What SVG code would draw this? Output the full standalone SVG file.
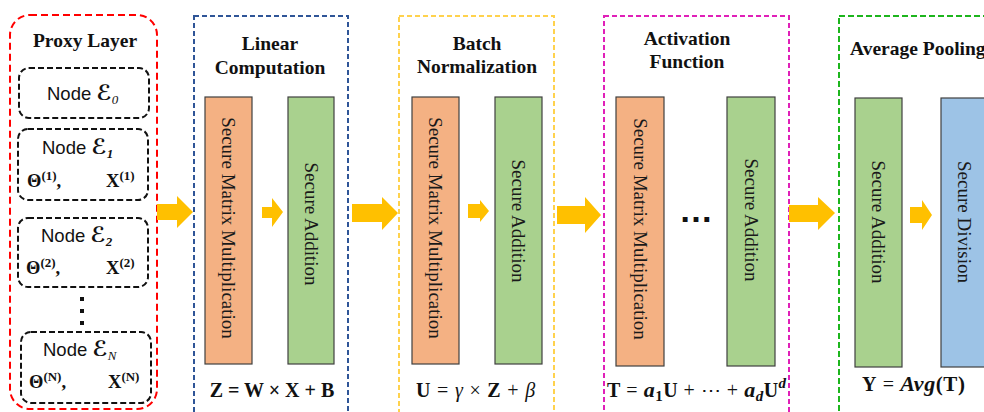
<svg xmlns="http://www.w3.org/2000/svg" width="984" height="412" viewBox="0 0 984 412">
  <style>
    .title { font-family: "Liberation Serif", "Times New Roman", serif; font-weight: bold; font-size: 19.5px; fill: #111; text-anchor: middle; }
    .vt { font-family: "Liberation Serif", "Times New Roman", serif; font-size: 19px; fill: #1a1a1a; text-anchor: middle; dominant-baseline: central; }
    .eq { font-family: "Liberation Serif", "Times New Roman", serif; font-size: 20px; fill: #111; }
    .b { font-weight: bold; }
    .i { font-style: italic; }
    .node { font-family: "Liberation Sans", Arial, sans-serif; font-size: 18.5px; fill: #111; }
    .scr { font-family: "DejaVu Sans", sans-serif; font-size: 21px; font-weight: bold; }
    .sub { font-family: "Liberation Serif", serif; font-size: 13px; font-style: italic; }
    .par { font-family: "Liberation Serif", "Times New Roman", serif; font-weight: bold; font-size: 18.5px; fill: #111; }
    .sup { font-size: 13px; }
    .stage { fill: none; stroke-width: 2; }
    .nbox { fill: #fff; stroke: #111; stroke-width: 2; stroke-dasharray: 6 3; }
    .mul { fill: #F4B183; stroke: #404040; stroke-width: 1.2; }
    .add { fill: #A9D18E; stroke: #404040; stroke-width: 1.2; }
    .div { fill: #9DC3E6; stroke: #404040; stroke-width: 1.2; }
    .arrow { fill: #FFC000; }
    .dot { fill: #111; }
  </style>

  <rect width="984" height="412" fill="#fff"/>

  <!-- Proxy layer with its participating nodes -->
  <g id="proxy-layer">
    <rect class="stage" x="10" y="15" width="147" height="394" rx="20" stroke="#FF0000" stroke-dasharray="7 4"/>
    <text class="title" x="85" y="47">Proxy Layer</text>
  </g>
  <g id="node-e0">
    <rect class="nbox" x="19" y="68" width="130" height="50" rx="10"/>
    <text class="node" x="47" y="100">Node <tspan class="scr">ℰ</tspan><tspan class="sub" dy="4">0</tspan></text>
  </g>
  <g id="node-e1">
    <rect class="nbox" x="18" y="129" width="130" height="71" rx="10"/>
    <text class="node" x="42" y="154">Node <tspan class="scr">ℰ</tspan><tspan class="sub" font-style="normal" font-weight="bold" dy="4">1</tspan></text>
    <text class="par" x="27" y="187">Θ<tspan class="sup" dy="-7">(1)</tspan><tspan dy="7">,</tspan></text>
    <text class="par" x="106" y="187">X<tspan class="sup" dy="-7">(1)</tspan></text>
  </g>
  <g id="node-e2">
    <rect class="nbox" x="18" y="218" width="130" height="69" rx="10"/>
    <text class="node" x="41" y="242">Node <tspan class="scr">ℰ</tspan><tspan class="sub" font-style="normal" font-weight="bold" dy="4">2</tspan></text>
    <text class="par" x="26" y="274">Θ<tspan class="sup" dy="-7">(2)</tspan><tspan dy="7">,</tspan></text>
    <text class="par" x="106" y="274">X<tspan class="sup" dy="-7">(2)</tspan></text>
  </g>
  <g id="node-dots">
    <rect class="dot" x="80" y="297" width="4" height="4"/>
    <rect class="dot" x="80" y="309" width="4" height="4"/>
    <rect class="dot" x="80" y="321" width="4" height="4"/>
  </g>
  <g id="node-en">
    <rect class="nbox" x="21" y="332" width="130" height="71" rx="10"/>
    <text class="node" x="43" y="356">Node <tspan class="scr">ℰ</tspan><tspan class="sub" dy="4">N</tspan></text>
    <text class="par" x="29" y="388">Θ<tspan class="sup" dy="-7">(N)</tspan><tspan dy="7">,</tspan></text>
    <text class="par" x="108" y="388">X<tspan class="sup" dy="-7">(N)</tspan></text>
  </g>

  <!-- Linear computation stage -->
  <g id="linear">
    <rect class="stage" x="194" y="16" width="154" height="420" stroke="#2F5597" stroke-dasharray="5 3"/>
    <text class="title" x="270" y="50">Linear</text>
    <text class="title" x="270" y="74">Computation</text>
    <rect class="mul" x="205" y="97" width="47" height="267"/>
    <text class="vt" transform="translate(228.5,228) rotate(90)">Secure Matrix Multiplication</text>
    <rect class="add" x="288" y="97" width="46" height="267"/>
    <text class="vt" transform="translate(311,224) rotate(90)">Secure Addition</text>
    <text class="eq b" x="272" y="397" text-anchor="middle">Z = W × X + B</text>
  </g>

  <!-- Batch normalization stage -->
  <g id="batch-norm">
    <rect class="stage" x="399" y="16" width="155" height="420" stroke="#FFD24D" stroke-dasharray="5 3"/>
    <text class="title" x="477" y="50">Batch</text>
    <text class="title" x="477" y="73">Normalization</text>
    <rect class="mul" x="412" y="97" width="47" height="267"/>
    <text class="vt" transform="translate(435.5,228) rotate(90)">Secure Matrix Multiplication</text>
    <rect class="add" x="495" y="97" width="47" height="267"/>
    <text class="vt" transform="translate(518.5,221) rotate(90)">Secure Addition</text>
    <text class="eq" x="476" y="397" text-anchor="middle" letter-spacing="0.8"><tspan class="b">U</tspan> = <tspan class="i">γ</tspan> × <tspan class="b">Z</tspan> + <tspan class="i">β</tspan></text>
  </g>

  <!-- Activation function stage -->
  <g id="activation">
    <rect class="stage" x="604" y="16" width="185" height="420" stroke="#E020B8" stroke-dasharray="5 3"/>
    <text class="title" x="687" y="45">Activation</text>
    <text class="title" x="687" y="68">Function</text>
    <rect class="mul" x="616" y="97" width="48" height="269"/>
    <text class="vt" transform="translate(640,229) rotate(90)">Secure Matrix Multiplication</text>
    <rect class="add" x="727" y="97" width="48" height="269"/>
    <text class="vt" transform="translate(751,220) rotate(90)">Secure Addition</text>
    <text x="696" y="222" font-family="Liberation Sans, Arial, sans-serif" font-weight="bold" font-size="34" text-anchor="middle" fill="#111">…</text>
    <text class="eq" x="607" y="397" letter-spacing="0.5"><tspan class="b">T</tspan> = <tspan class="b i" font-size="22">a</tspan><tspan class="b" font-size="15" dy="4">1</tspan><tspan class="b" dy="-4">U</tspan> + ⋯ + <tspan class="b i" font-size="22">a</tspan><tspan class="b i" font-size="15" dy="4">d</tspan><tspan class="b" dy="-4">U</tspan><tspan class="b i" font-size="15" dy="-9">d</tspan></text>
  </g>

  <!-- Average pooling stage -->
  <g id="avg-pool">
    <rect class="stage" x="839" y="16" width="160" height="420" stroke="#1DB51D" stroke-dasharray="6 3"/>
    <text class="title" x="850" y="55" style="text-anchor:start">Average Pooling</text>
    <rect class="add" x="855" y="98" width="47" height="269"/>
    <text class="vt" transform="translate(878.5,222) rotate(90)">Secure Addition</text>
    <rect class="div" x="941" y="98" width="47" height="269"/>
    <text class="vt" transform="translate(964.5,222) rotate(90)">Secure Division</text>
    <text class="eq" x="862" y="391" letter-spacing="0.6"><tspan class="b">Y</tspan> = <tspan class="b i" font-size="22">Avg</tspan><tspan class="b" font-size="21">(T)</tspan></text>
  </g>

  <!-- Flow arrows between stages and blocks -->
  <g id="connectors" class="arrow">
    <polygon points="157,204 177,204 177,196 193,212 177,228 177,220 157,220"/>
    <polygon points="262,207 272,207 272,198 283,212 272,227 272,218 262,218"/>
    <polygon points="352,204 382,204 382,197 398,213 382,230 382,222 352,222"/>
    <polygon points="468,204 480,204 480,200 489,211 480,222 480,218 468,218"/>
    <polygon points="557,206 585,206 585,197 601,215 585,233 585,224 557,224"/>
    <polygon points="789,205 818,205 818,197 835,213 818,230 818,222 789,222"/>
    <polygon points="910,207 922,207 922,200 932,215 922,230 922,223 910,223"/>
  </g>
</svg>
